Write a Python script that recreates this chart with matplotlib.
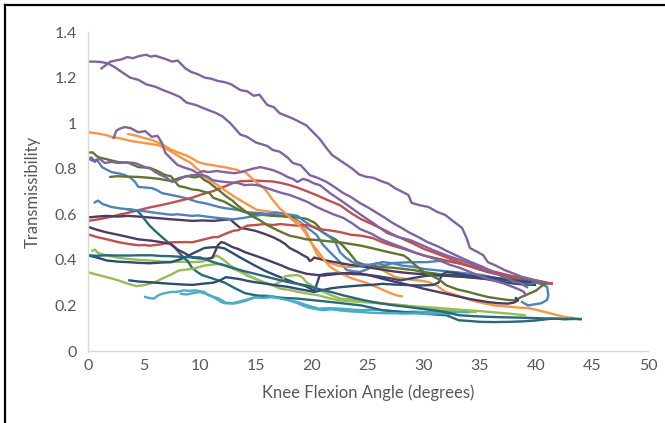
import matplotlib
matplotlib.use("Agg")
import matplotlib.pyplot as plt
from matplotlib.lines import Line2D

# ---- Excel-like palette ----
PURPLE = "#8064A2"
ORANGE = "#F79646"
BLUE = "#4F81BD"
RED = "#C0504D"
LGREEN = "#9BBB59"
TEAL = "#4BACC6"
DGREEN = "#5F7530"
DPURPLE = "#4D3B62"
DBLUE = "#2C4D75"
DTEAL = "#276A7C"
TEXT = "#595959"
AXIS = "#D9D9D9"

# ---- data (knee flexion angle, transmissibility) ----
purple1_x = [0, 0.6, 1.2, 1.8, 2.4, 3.0, 3.75, 4.5, 5.2, 6.0, 6.7, 7.5, 8.2, 8.8, 9.6, 10.6, 11.4, 12.0, 12.7, 13.6,
             14.2, 15.0, 16.0, 16.5, 17.1, 17.8, 18.3, 19.0, 19.8, 20.5, 21.3, 22.0, 22.8, 23.5, 24.3, 25.0, 25.8,
             26.5, 27.2, 28.0, 28.75, 29.5, 30.3, 31.2, 32.2, 33.2, 34.2, 35.2, 36.2, 37.0, 37.8, 38.6, 39.3, 40.0, 40.5]
purple1_y = [1.27, 1.27, 1.268, 1.262, 1.245, 1.225, 1.20, 1.19, 1.17, 1.16, 1.145, 1.13, 1.115, 1.09, 1.08, 1.06,
             1.045, 1.03, 1.0, 0.95, 0.94, 0.915, 0.90, 0.882, 0.875, 0.85, 0.825, 0.815, 0.772, 0.76, 0.742, 0.72,
             0.693, 0.675, 0.649, 0.63, 0.606, 0.585, 0.562, 0.54, 0.518, 0.5, 0.478, 0.46, 0.435, 0.412, 0.39, 0.37,
             0.347, 0.33, 0.315, 0.303, 0.298, 0.30, 0.295]

purple2_x = [1.2, 1.6, 2.0, 2.5, 3.0, 3.5, 4.0, 4.6, 5.2, 5.6, 6.0, 6.5, 7.0, 7.5, 8.0, 8.3, 8.7, 9.2, 9.8, 10.4, 11.0,
             11.6, 12.2, 12.8, 13.6, 14.2, 14.8, 15.3, 16.0, 16.6, 17.1, 17.8, 18.3, 18.9, 19.5, 20.1, 20.7, 21.3,
             21.8, 22.4, 23.0, 23.6, 24.2, 24.8, 25.5, 26.2, 26.8, 27.4, 28.0, 28.6, 28.9, 29.6, 30.4, 31.2, 31.9,
             32.6, 33.4, 33.8, 34.1, 34.8, 35.3, 35.7, 36.4, 37.2, 38.0, 38.75, 39.4, 39.9, 40.5, 41.0]
purple2_y = [1.24, 1.255, 1.27, 1.275, 1.28, 1.29, 1.285, 1.295, 1.30, 1.292, 1.296, 1.288, 1.28, 1.27, 1.275, 1.26,
             1.24, 1.225, 1.215, 1.2, 1.195, 1.185, 1.18, 1.17, 1.145, 1.14, 1.12, 1.125, 1.08, 1.07, 1.044, 1.03,
             1.02, 1.005, 0.99, 0.96, 0.93, 0.89, 0.86, 0.84, 0.82, 0.8, 0.775, 0.765, 0.76, 0.745, 0.735, 0.715,
             0.7, 0.685, 0.65, 0.64, 0.632, 0.61, 0.597, 0.57, 0.54, 0.496, 0.452, 0.434, 0.42, 0.39, 0.375, 0.355,
             0.34, 0.325, 0.318, 0.31, 0.305, 0.295]

purple3_x = [2.3, 2.5, 2.8, 3.3, 3.8, 4.5, 5.1, 5.7, 6.2, 6.6, 6.9, 7.5, 8.0, 8.6, 9.3, 9.8, 10.3, 10.7, 11.5, 12.2,
             13.1, 13.6, 14.0, 14.7, 15.4, 16.0, 16.5, 17.2, 17.8, 18.3, 18.7, 19.2, 19.6, 20.2, 20.7, 21.3, 21.6,
             22.5, 23.4, 24.3, 25.5, 26.7, 27.7, 28.75, 29.8, 30.8, 32.0, 33.2, 34.4, 35.6, 36.5, 37.4, 38.0, 38.6,
             39.2]
purple3_y = [0.935, 0.965, 0.975, 0.983, 0.978, 0.96, 0.965, 0.94, 0.945, 0.913, 0.87, 0.84, 0.816, 0.805, 0.794,
             0.78, 0.79, 0.785, 0.79, 0.785, 0.78, 0.785, 0.79, 0.80, 0.807, 0.80, 0.794, 0.78, 0.764, 0.755, 0.742,
             0.755, 0.75, 0.735, 0.728, 0.705, 0.693, 0.663, 0.632, 0.6, 0.56, 0.518, 0.5, 0.487, 0.465, 0.443, 0.42,
             0.4, 0.378, 0.355, 0.338, 0.32, 0.305, 0.298, 0.28]

purple4_x = [0, 0.3, 0.6, 1.0, 1.5, 2.1, 2.7, 3.4, 4.2, 5.1, 5.6, 6.0, 6.5, 6.9, 7.5, 8.0, 8.6, 9.3, 10.2, 10.7, 11.1,
             11.7, 12.2, 13.4, 14.0, 14.6, 15.1, 15.8, 16.5, 17.2, 18.0, 18.8, 19.6, 20.3, 21.0, 21.9, 22.8, 23.6,
             24.3, 25.3, 26.2, 27.2, 28.3, 29.3, 30.3, 31.3, 32.2, 33.2, 34.2, 35.2, 36.2, 37.2, 38.0, 38.5, 38.9, 39.1]
purple4_y = [0.838, 0.85, 0.83, 0.845, 0.825, 0.83, 0.825, 0.828, 0.825, 0.807, 0.80, 0.785, 0.772, 0.764, 0.742,
             0.75, 0.765, 0.772, 0.772, 0.765, 0.75, 0.745, 0.742, 0.737, 0.728, 0.73, 0.728, 0.718, 0.706, 0.695,
             0.685, 0.67, 0.654, 0.635, 0.619, 0.6, 0.584, 0.56, 0.535, 0.515, 0.49, 0.47, 0.45, 0.43, 0.415, 0.4,
             0.38, 0.365, 0.345, 0.325, 0.31, 0.295, 0.28, 0.27, 0.26, 0.245]

orange1_x = [0, 0.8, 1.6, 2.1, 3.0, 3.8, 4.5, 5.4, 6.25, 6.9, 7.5, 8.1, 8.7, 9.2, 9.55, 10.0, 10.4, 10.9, 11.3, 12.2,
             13.1, 14.0, 15.1, 16.5, 17.1, 17.8, 18.3, 18.8, 19.2, 19.5, 19.8, 20.1, 20.4, 20.7, 21.2, 21.6, 22.3,
             23.1, 24.0, 24.9, 25.6, 26.3, 27.4, 28.5, 29.5, 30.4, 31.2, 31.9, 32.6, 33.4, 34.1, 34.8, 35.6, 36.3,
             37.1, 37.9, 38.6, 39.3, 40.1, 40.8, 41.7, 42.6, 43.3]
orange1_y = [0.96, 0.955, 0.948, 0.94, 0.932, 0.922, 0.917, 0.91, 0.904, 0.89, 0.873, 0.855, 0.838, 0.825, 0.807,
             0.79, 0.764, 0.75, 0.737, 0.706, 0.676, 0.65, 0.619, 0.61, 0.605, 0.597, 0.575, 0.566, 0.545, 0.522,
             0.49, 0.46, 0.43, 0.408, 0.395, 0.386, 0.375, 0.369, 0.37, 0.377, 0.372, 0.355, 0.325, 0.315, 0.31,
             0.303, 0.285, 0.26, 0.25, 0.237, 0.225, 0.215, 0.207, 0.2, 0.197, 0.193, 0.19, 0.189, 0.18, 0.171, 0.16,
             0.149, 0.145]

orange2_x = [3.6, 4.3, 5.0, 5.7, 6.5, 7.5, 8.1, 8.7, 9.3, 9.8, 10.5, 11.1, 11.7, 12.2, 12.8, 13.4, 13.6, 14.0, 14.5,
             15.1, 15.6, 16.0, 16.5, 17.1, 17.6, 18.0, 18.5, 19.0, 19.4, 19.6, 20.0, 20.5, 21.0, 21.6, 22.5, 23.5,
             24.9, 25.8, 26.7, 27.5, 28.0]
orange2_y = [0.952, 0.945, 0.935, 0.926, 0.91, 0.882, 0.87, 0.86, 0.845, 0.83, 0.82, 0.816, 0.81, 0.807, 0.8, 0.794,
             0.785, 0.787, 0.764, 0.737, 0.72, 0.698, 0.663, 0.627, 0.605, 0.588, 0.565, 0.545, 0.52, 0.5, 0.47,
             0.44, 0.405, 0.37, 0.342, 0.32, 0.298, 0.28, 0.26, 0.245, 0.24]

blue1_x = [0, 0.4, 0.8, 1.25, 1.7, 2.1, 2.7, 3.3, 3.8, 4.2, 4.5, 5.0, 5.7, 6.2, 6.6, 7.5, 8.1, 8.7, 9.3, 9.8, 10.5,
           11.1, 11.7, 12.2, 13.4, 14.0, 14.8, 15.6, 16.5, 17.3, 18.0, 18.8, 19.6, 20.4, 21.0, 21.6, 22.1, 22.5, 23.1,
           23.7, 24.3, 25.0, 25.8, 26.5, 27.2, 28.0, 29.0, 30.3, 31.2, 32.2, 33.2, 34.2, 35.2, 36.3, 37.3, 38.2, 39.0,
           39.8, 40.5, 41.0, 41.1, 41.0, 40.5, 39.9, 39.3, 38.75]
blue1_y = [0.847, 0.835, 0.84, 0.807, 0.795, 0.785, 0.78, 0.772, 0.76, 0.742, 0.72, 0.718, 0.715, 0.705, 0.693,
           0.684, 0.678, 0.671, 0.662, 0.654, 0.648, 0.64, 0.632, 0.627, 0.619, 0.61, 0.607, 0.604, 0.597, 0.595,
           0.588, 0.57, 0.54, 0.51, 0.465, 0.434, 0.41, 0.39, 0.355, 0.35, 0.347, 0.36, 0.386, 0.375, 0.386, 0.388,
           0.39, 0.39, 0.395, 0.393, 0.385, 0.37, 0.355, 0.345, 0.335, 0.325, 0.315, 0.305, 0.295, 0.28, 0.246,
           0.225, 0.21, 0.205, 0.2, 0.215]

blue2_x = [0.6, 0.9, 1.3, 2.1, 3.0, 3.6, 4.8, 6.25, 7.4, 8.0, 9.3, 9.8, 11.2, 12.0, 13.0, 14.0, 14.9, 15.8, 16.8,
           17.8, 18.7, 19.3, 19.9, 20.5, 21.0, 21.6, 22.1, 22.5, 23.0, 23.6, 24.4, 25.3, 26.3, 27.2, 28.0, 29.0, 30.0,
           31.0, 32.0, 33.0, 33.9, 35.0, 36.0, 37.0, 38.0, 39.0, 39.6]
blue2_y = [0.652, 0.66, 0.645, 0.632, 0.625, 0.622, 0.615, 0.605, 0.598, 0.6, 0.593, 0.595, 0.586, 0.582, 0.578,
           0.585, 0.593, 0.6, 0.608, 0.6, 0.593, 0.57, 0.55, 0.535, 0.52, 0.5, 0.477, 0.433, 0.41, 0.39, 0.375, 0.38,
           0.39, 0.385, 0.375, 0.37, 0.36, 0.355, 0.35, 0.345, 0.34, 0.335, 0.325, 0.315, 0.305, 0.3, 0.295]

red1_x = [0, 0.8, 1.7, 2.6, 3.6, 4.5, 5.5, 6.5, 7.4, 8.4, 9.3, 10.2, 11.2, 12.1, 13.0, 13.6, 14.2, 15.0, 15.7, 16.5,
          17.2, 18.0, 18.7, 19.6, 20.6, 21.5, 22.5, 23.5, 24.4, 25.3, 26.3, 27.2, 28.2, 29.1, 30.0, 31.0, 32.0, 33.0,
          33.9, 34.8, 35.7, 36.7, 37.6, 38.5, 39.5, 40.3, 41.0, 41.4]
red1_y = [0.571, 0.577, 0.585, 0.596, 0.607, 0.618, 0.63, 0.64, 0.65, 0.662, 0.673, 0.688, 0.702, 0.72, 0.738, 0.745,
          0.746, 0.748, 0.746, 0.744, 0.738, 0.728, 0.717, 0.7, 0.68, 0.66, 0.64, 0.605, 0.578, 0.558, 0.535, 0.512,
          0.49, 0.47, 0.448, 0.43, 0.411, 0.393, 0.375, 0.36, 0.346, 0.335, 0.324, 0.317, 0.31, 0.302, 0.295, 0.298]

red2_x = [0, 0.8, 1.7, 2.7, 3.6, 4.5, 5.1, 5.5, 6.5, 7.4, 8.7, 9.3, 10.2, 11.2, 11.6, 12.3, 13.0, 13.4, 14.2, 15.0,
          15.7, 16.5, 17.2, 18.0, 18.7, 19.6, 20.6, 21.5, 22.5, 23.5, 24.4, 25.4, 26.3, 27.2, 28.2, 29.1, 30.0, 31.0,
          32.0, 33.0, 33.9, 34.8, 35.7, 36.7, 37.6, 38.8, 40.0, 40.8, 41.4]
red2_y = [0.512, 0.5, 0.49, 0.478, 0.47, 0.464, 0.465, 0.462, 0.468, 0.477, 0.478, 0.477, 0.488, 0.5, 0.5, 0.515,
          0.528, 0.53, 0.55, 0.553, 0.557, 0.553, 0.557, 0.553, 0.55, 0.553, 0.535, 0.53, 0.522, 0.51, 0.506, 0.496,
          0.477, 0.462, 0.448, 0.433, 0.419, 0.408, 0.397, 0.386, 0.375, 0.364, 0.355, 0.343, 0.331, 0.32, 0.31,
          0.302, 0.295]

dgreen1_x = [0, 0.4, 0.9, 1.8, 2.7, 3.6, 4.5, 5.5, 6.2, 6.9, 7.4, 7.8, 8.1, 8.7, 9.3, 9.9, 10.4, 10.8, 11.2, 12.2,
             13.0, 13.4, 14.0, 14.6, 15.5, 16.5, 17.6, 18.7, 19.5, 20.2, 20.6, 21.0, 21.5, 22.1, 22.7, 23.3, 24.0,
             24.6, 25.2, 26.3, 27.3, 28.2, 29.1, 30.0, 31.0, 32.0, 33.0, 33.9, 34.8, 35.7, 36.7, 37.6, 38.6, 39.5,
             40.3, 40.8]
dgreen1_y = [0.87, 0.872, 0.851, 0.84, 0.829, 0.826, 0.807, 0.804, 0.79, 0.772, 0.767, 0.742, 0.724, 0.718, 0.709,
             0.706, 0.698, 0.695, 0.672, 0.655, 0.632, 0.622, 0.61, 0.6, 0.598, 0.593, 0.59, 0.586, 0.58, 0.564,
             0.545, 0.52, 0.505, 0.49, 0.465, 0.433, 0.39, 0.38, 0.375, 0.368, 0.365, 0.36, 0.355, 0.346, 0.34, 0.331,
             0.328, 0.324, 0.32, 0.317, 0.318, 0.317, 0.312, 0.31, 0.303, 0.295]

dgreen2_x = [2.0, 2.6, 3.6, 4.5, 5.5, 6.4, 7.4, 8.2, 8.9, 9.5, 10.0, 10.4, 10.8, 11.2, 11.7, 12.3, 12.9, 13.4, 14.0,
             14.6, 15.3, 16.1, 17.0, 18.0, 18.8, 19.5, 20.2, 21.0, 21.8, 22.5, 23.4, 24.4, 25.3, 26.3, 27.2, 28.2,
             28.6, 28.9, 29.4, 30.0, 30.7, 31.3, 32.0, 33.0, 33.9, 34.8, 35.7, 36.6, 37.5, 38.1, 38.7, 39.3, 40.0,
             40.5, 40.8]
dgreen2_y = [0.764, 0.767, 0.765, 0.764, 0.76, 0.755, 0.746, 0.76, 0.767, 0.762, 0.767, 0.75, 0.74, 0.724, 0.705,
             0.68, 0.66, 0.637, 0.615, 0.593, 0.575, 0.55, 0.528, 0.506, 0.498, 0.49, 0.488, 0.484, 0.48, 0.477, 0.47,
             0.462, 0.452, 0.44, 0.43, 0.419, 0.405, 0.39, 0.37, 0.346, 0.33, 0.315, 0.288, 0.27, 0.26, 0.248, 0.237,
             0.23, 0.224, 0.222, 0.237, 0.25, 0.265, 0.285, 0.298]

lgreen1_x = [0.4, 0.6, 0.9, 1.7, 2.6, 3.6, 4.5, 5.5, 6.4, 7.4, 8.4, 9.3, 10.2, 10.9, 11.5, 12.1, 12.7, 13.4, 14.2,
             14.9, 15.7, 16.5, 17.2, 18.0, 18.7, 19.6, 20.6, 21.5, 22.5, 23.5, 24.4, 25.3, 26.3, 27.2, 28.2, 29.1,
             30.0, 31.0, 32.0, 33.0, 33.9, 34.6]
lgreen1_y = [0.44, 0.445, 0.43, 0.419, 0.41, 0.404, 0.4, 0.397, 0.393, 0.39, 0.392, 0.39, 0.392, 0.405, 0.419, 0.4,
             0.375, 0.355, 0.331, 0.318, 0.302, 0.288, 0.273, 0.268, 0.26, 0.252, 0.244, 0.232, 0.222, 0.218, 0.215,
             0.212, 0.208, 0.205, 0.2, 0.193, 0.186, 0.182, 0.179, 0.175, 0.171, 0.171]

lgreen2_x = [0, 0.8, 1.7, 2.7, 3.6, 4.3, 4.9, 5.5, 6.1, 6.6, 7.4, 8.1, 8.7, 9.3, 10.4, 11.2, 11.9, 12.5, 13.0, 14.0,
             14.9, 15.7, 16.5, 17.2, 17.6, 18.0, 18.7, 19.1, 19.5, 20.2, 21.0, 21.7, 22.5, 23.5, 24.4, 25.3, 26.3,
             27.2, 28.2, 29.1, 30.0, 31.0, 32.0, 33.0, 33.9, 35.0, 36.2, 37.6, 38.4, 39.0]
lgreen2_y = [0.346, 0.335, 0.324, 0.31, 0.295, 0.285, 0.288, 0.295, 0.305, 0.317, 0.335, 0.353, 0.357, 0.36, 0.375,
             0.38, 0.382, 0.372, 0.36, 0.34, 0.317, 0.3, 0.288, 0.305, 0.328, 0.331, 0.333, 0.325, 0.302, 0.28, 0.26,
             0.245, 0.23, 0.226, 0.222, 0.215, 0.208, 0.204, 0.2, 0.196, 0.193, 0.19, 0.186, 0.182, 0.179, 0.175,
             0.17, 0.164, 0.16, 0.157]

teal1_x = [5.1, 5.5, 5.9, 6.3, 6.6, 7.4, 8.0, 8.5, 9.1, 9.6, 10.4, 10.7, 11.2, 11.9, 12.2, 13.0, 13.6, 14.2, 14.9,
           15.7, 16.5, 17.3, 18.0, 18.7, 19.6, 20.6, 21.5, 22.5, 23.5, 24.4, 25.3, 26.3, 27.2, 28.2, 29.1, 30.0, 31.0,
           32.0, 33.0, 33.9]
teal1_y = [0.237, 0.232, 0.23, 0.245, 0.251, 0.259, 0.26, 0.266, 0.264, 0.266, 0.259, 0.246, 0.237, 0.215, 0.21,
           0.208, 0.214, 0.222, 0.237, 0.244, 0.24, 0.232, 0.222, 0.215, 0.2, 0.186, 0.188, 0.186, 0.182, 0.179,
           0.181, 0.179, 0.175, 0.171, 0.173, 0.171, 0.17, 0.172, 0.17, 0.171]

teal2_x = [8.3, 8.8, 9.4, 10.0, 10.6, 11.2, 11.6, 12.3, 12.9, 13.6, 14.2, 14.9, 15.7, 16.5, 17.2, 18.0, 18.7, 19.5,
           20.2, 21.0, 21.8, 22.5, 23.4, 24.4, 25.3, 26.3, 27.3, 28.2, 29.2, 30.0, 31.0, 32.3]
teal2_y = [0.251, 0.248, 0.254, 0.259, 0.25, 0.237, 0.232, 0.212, 0.21, 0.218, 0.226, 0.235, 0.233, 0.237, 0.23,
           0.222, 0.21, 0.193, 0.185, 0.179, 0.183, 0.178, 0.174, 0.171, 0.168, 0.166, 0.166, 0.164, 0.165, 0.164,
           0.165, 0.164]

dpurple1_x = [0, 0.8, 1.7, 2.6, 3.6, 4.5, 5.5, 6.5, 7.4, 8.3, 9.3, 10.2, 11.2, 12.0, 12.7, 13.1, 13.6, 14.2, 14.9,
              15.7, 16.5, 17.1, 17.6, 18.0, 18.7, 19.2, 19.6, 19.8, 20.0, 20.2, 20.6, 21.0, 21.7, 22.5, 23.4, 24.4,
              25.4, 26.3, 27.2, 28.2, 29.1, 30.0, 31.0, 32.0, 33.0, 33.9, 34.8, 35.7, 36.7, 37.6, 38.5, 39.5]
dpurple1_y = [0.586, 0.59, 0.593, 0.59, 0.593, 0.59, 0.586, 0.582, 0.578, 0.575, 0.571, 0.573, 0.571, 0.575, 0.578,
              0.56, 0.54, 0.535, 0.528, 0.515, 0.5, 0.485, 0.47, 0.452, 0.435, 0.42, 0.41, 0.395, 0.40, 0.41, 0.405,
              0.40, 0.393, 0.386, 0.378, 0.372, 0.364, 0.357, 0.35, 0.344, 0.34, 0.337, 0.333, 0.33, 0.327, 0.324,
              0.32, 0.317, 0.313, 0.31, 0.306, 0.302]

dpurple2_x = [0, 0.8, 1.7, 2.7, 3.6, 4.5, 5.7, 6.5, 7.4, 8.0, 8.5, 9.3, 10.0, 10.7, 11.1, 11.3, 11.6, 11.9, 12.2,
              12.9, 13.4, 14.0, 14.9, 15.7, 16.5, 17.3, 18.0, 18.7, 19.5, 20.2, 21.0, 21.7, 22.5, 23.4, 24.4, 25.3,
              26.3, 27.2, 28.2, 29.1, 30.0, 31.0, 32.0, 33.0, 33.9, 34.8, 35.7, 36.6, 37.5, 38.0, 38.4, 38.2]
dpurple2_y = [0.545, 0.532, 0.52, 0.51, 0.5, 0.49, 0.484, 0.478, 0.47, 0.445, 0.433, 0.41, 0.406, 0.405, 0.41, 0.43,
              0.465, 0.478, 0.474, 0.456, 0.448, 0.434, 0.419, 0.405, 0.39, 0.375, 0.36, 0.35, 0.339, 0.335, 0.331,
              0.335, 0.34, 0.342, 0.339, 0.33, 0.317, 0.306, 0.295, 0.285, 0.273, 0.262, 0.251, 0.24, 0.23, 0.222,
              0.215, 0.21, 0.208, 0.212, 0.222, 0.232]

dblue1_x = [0, 0.8, 1.7, 2.7, 3.6, 4.5, 5.5, 6.5, 7.4, 8.1, 8.7, 9.2, 9.6, 10.0, 10.4, 11.0, 11.6, 12.2, 12.9, 13.6,
            14.9, 15.8, 16.8, 17.8, 18.7, 19.4, 19.9, 20.2, 20.4, 20.7, 21.2, 22.5, 23.6, 24.8, 25.9, 26.9, 27.9,
            29.0, 30.2, 31.4, 32.4, 33.4, 34.5, 35.6, 36.7, 37.7, 38.8, 39.9]
dblue1_y = [0.42, 0.41, 0.397, 0.392, 0.39, 0.387, 0.385, 0.388, 0.39, 0.4, 0.412, 0.424, 0.434, 0.443, 0.452, 0.455,
            0.456, 0.45, 0.43, 0.41, 0.375, 0.352, 0.331, 0.312, 0.295, 0.285, 0.273, 0.262, 0.29, 0.333, 0.338,
            0.342, 0.338, 0.335, 0.328, 0.32, 0.31, 0.32, 0.33, 0.333, 0.334, 0.333, 0.325, 0.315, 0.305, 0.298,
            0.292, 0.29]

dblue2_x = [3.7, 4.5, 5.5, 6.5, 7.4, 8.4, 9.3, 10.2, 11.2, 11.8, 12.3, 12.9, 13.6, 14.2, 14.9, 15.8, 16.8, 17.8,
            18.7, 19.5, 20.2, 21.0, 21.7, 22.5, 23.4, 24.4, 25.3, 26.3, 27.2, 28.2, 29.1, 30.0, 30.8, 31.3, 31.6,
            32.0, 32.8, 33.9, 34.8, 35.7, 36.7, 37.6, 38.5, 39.5]
dblue2_y = [0.31, 0.305, 0.302, 0.298, 0.295, 0.292, 0.29, 0.295, 0.3, 0.31, 0.324, 0.32, 0.315, 0.308, 0.302,
            0.296, 0.288, 0.282, 0.273, 0.266, 0.259, 0.268, 0.275, 0.28, 0.284, 0.288, 0.29, 0.295, 0.292, 0.29,
            0.288, 0.288, 0.29, 0.3, 0.335, 0.346, 0.343, 0.331, 0.328, 0.325, 0.318, 0.31, 0.305, 0.302]

dteal1_x = [3.6, 4.0, 4.4, 4.7, 5.1, 5.5, 6.1, 6.6, 7.2, 7.8, 8.5, 8.9, 9.3, 9.8, 10.2, 11.2, 12.2, 13.1, 14.0,
            14.9, 15.7, 16.8, 17.8, 18.7, 19.7, 20.7, 21.7, 22.6, 23.5, 24.4, 25.3, 26.3, 27.2, 28.2, 29.1, 30.0,
            31.0, 32.0, 32.6, 33.1, 34.0, 35.0, 36.3, 37.6, 38.8, 40.0, 41.4, 42.6, 43.5, 44.0]
dteal1_y = [0.622, 0.619, 0.615, 0.6, 0.575, 0.55, 0.522, 0.5, 0.475, 0.452, 0.411, 0.395, 0.364, 0.345, 0.333,
            0.317, 0.3, 0.276, 0.254, 0.245, 0.24, 0.235, 0.232, 0.23, 0.225, 0.22, 0.215, 0.21, 0.205, 0.2, 0.19,
            0.179, 0.175, 0.171, 0.168, 0.164, 0.16, 0.157, 0.145, 0.135, 0.132, 0.128, 0.127, 0.128, 0.13, 0.134,
            0.142, 0.14, 0.141, 0.14]

dteal2_x = [0, 0.8, 1.7, 2.7, 3.6, 4.5, 5.7, 6.5, 7.4, 8.7, 10.0, 10.6, 11.2, 12.0, 12.7, 13.8, 14.9, 16.0, 17.2,
            18.3, 19.5, 20.6, 21.7, 22.8, 24.0, 25.1, 26.3, 27.4, 28.6, 29.7, 30.8, 32.0, 33.1, 34.4, 35.7, 37.0,
            38.2, 39.5, 40.8, 42.0, 42.5, 43.3, 44.0]
dteal2_y = [0.42, 0.418, 0.42, 0.419, 0.419, 0.42, 0.42, 0.417, 0.416, 0.412, 0.411, 0.4, 0.39, 0.378, 0.368, 0.352,
            0.339, 0.325, 0.31, 0.298, 0.288, 0.272, 0.259, 0.244, 0.23, 0.218, 0.208, 0.2, 0.193, 0.186, 0.179,
            0.17, 0.157, 0.153, 0.15, 0.148, 0.147, 0.145, 0.143, 0.142, 0.14, 0.141, 0.14]

x_ticks = [0, 5, 10, 15, 20, 25, 30, 35, 40, 45, 50]
y_ticks = [0, 0.2, 0.4, 0.6, 0.8, 1.0, 1.2, 1.4]
y_tick_labels = ["0", "0.2", "0.4", "0.6", "0.8", "1", "1.2", "1.4"]

series = [
    (blue1_x, blue1_y, BLUE), (red1_x, red1_y, RED), (lgreen1_x, lgreen1_y, LGREEN),
    (purple1_x, purple1_y, PURPLE), (teal1_x, teal1_y, TEAL), (orange1_x, orange1_y, ORANGE),
    (dblue1_x, dblue1_y, DBLUE), (dgreen1_x, dgreen1_y, DGREEN), (dpurple1_x, dpurple1_y, DPURPLE),
    (dteal1_x, dteal1_y, DTEAL),
    (blue2_x, blue2_y, BLUE), (red2_x, red2_y, RED), (lgreen2_x, lgreen2_y, LGREEN),
    (purple2_x, purple2_y, PURPLE), (teal2_x, teal2_y, TEAL), (orange2_x, orange2_y, ORANGE),
    (dblue2_x, dblue2_y, DBLUE), (dgreen2_x, dgreen2_y, DGREEN), (dpurple2_x, dpurple2_y, DPURPLE),
    (dteal2_x, dteal2_y, DTEAL),
    (purple3_x, purple3_y, PURPLE), (purple4_x, purple4_y, PURPLE),
]

plt.rcParams["font.family"] = ["Lato", "DejaVu Sans"]

fig = plt.figure(figsize=(6.65, 4.23), dpi=100)
ax = fig.add_axes([88 / 665, 1 - 351 / 423, 560 / 665, 319 / 423])

for xs, ys, color in series:
    ax.plot(xs, ys, color=color, lw=1.7, solid_joinstyle="round")

ax.set_xlim(0, 50)
ax.set_ylim(0, 1.4)
ax.set_xticks(x_ticks)
ax.set_yticks(y_ticks, y_tick_labels)
ax.tick_params(length=0, labelsize=11.5, labelcolor=TEXT)
ax.tick_params(axis="y", pad=8)
ax.tick_params(axis="x", pad=6)
for s in ("top", "right"):
    ax.spines[s].set_visible(False)
for s in ("left", "bottom"):
    ax.spines[s].set_color(AXIS)
    ax.spines[s].set_linewidth(1.0)

ax.set_xlabel("Knee Flexion Angle (degrees)", fontsize=12, color=TEXT, labelpad=8)
ax.set_ylabel("Transmissibility", fontsize=12, color=TEXT, labelpad=10)

# black frame on the top and left edges of the picture
fig.add_artist(Line2D([5 / 665, 5 / 665], [0, 1 - 5 / 423], transform=fig.transFigure, color="black", lw=1.6))
fig.add_artist(Line2D([5 / 665, 1], [1 - 5 / 423, 1 - 5 / 423], transform=fig.transFigure, color="black", lw=1.6))

fig.savefig("out.png", dpi=100, facecolor="white")
